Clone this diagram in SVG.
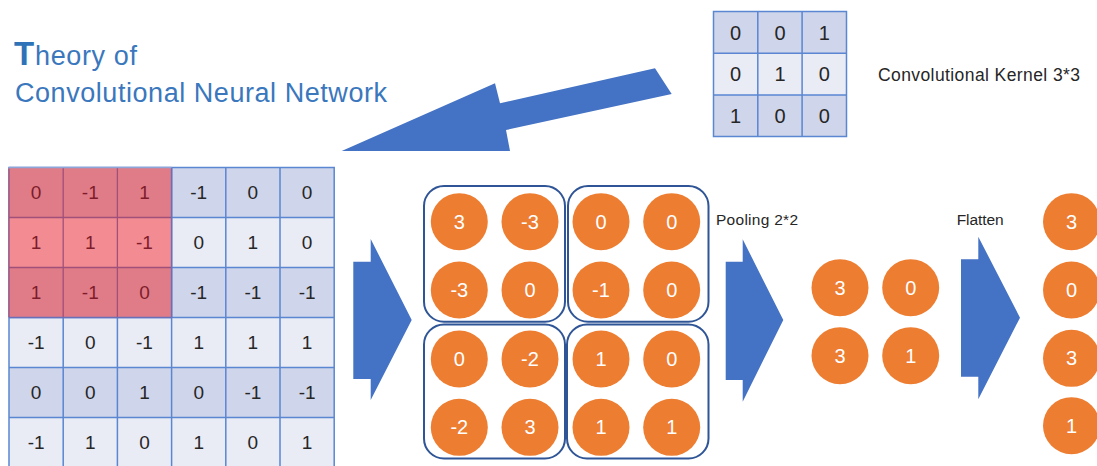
<svg xmlns="http://www.w3.org/2000/svg" width="1097" height="466" viewBox="0 0 1097 466">
<style>
text{font-family:"Liberation Sans","Noto Sans",Arial,sans-serif}
.t{fill:#3A77BD;font-size:27px}
.lbl{fill:#262626}
.cd{fill:#262626;font-size:19px;text-anchor:middle}
.cr{fill:#7E1C2C;font-size:19px;text-anchor:middle}
.kd{fill:#262626;font-size:20px;text-anchor:middle}
.a{fill:#4472C4}
.c{fill:#ED7D31}
.cn{fill:#FFFFFF;font-size:20px;text-anchor:middle}
.box{fill:none;stroke:#2F5597;stroke-width:2}
.dk{fill:#CFD5EA}
.lt{fill:#E9EBF5}
.r1{fill:#E07C87}
.r2{fill:#F28B92}
.gl{stroke:#5A86D2;stroke-width:1.5;fill:none}
.rl{stroke:#A0507A;stroke-width:1.3;fill:none}
</style>

<g id="title">
<text x="14" y="65" style="font-size:33px;font-weight:bold;fill:#2E73B8">T</text>
<text x="35" y="65" class="t" textLength="102">heory of</text>
<text x="15" y="101.5" class="t" textLength="372">Convolutional Neural Network</text>
</g>

<g id="kernel">
<rect x="713.5" y="11.5" width="133" height="41.7" class="dk"/>
<rect x="713.5" y="53.2" width="133" height="41.7" class="lt"/>
<rect x="713.5" y="94.9" width="133" height="41.7" class="dk"/>
<path class="gl" d="M713.5 11.5H846.5V136.6H713.5Z M757.8 11.5V136.6 M802.1 11.5V136.6 M713.5 53.2H846.5 M713.5 94.9H846.5"/>
<text class="kd" x="735.6" y="39.5">0</text><text class="kd" x="780" y="39.5">0</text><text class="kd" x="824.3" y="39.5">1</text>
<text class="kd" x="735.6" y="81.2">0</text><text class="kd" x="780" y="81.2">1</text><text class="kd" x="824.3" y="81.2">0</text>
<text class="kd" x="735.6" y="122.9">1</text><text class="kd" x="780" y="122.9">0</text><text class="kd" x="824.3" y="122.9">0</text>
</g>
<g id="kernel-label">
<text class="lbl" x="878" y="81" style="font-size:17.5px" textLength="202">Convolutional Kernel 3*3</text>
</g>

<g id="input-grid">
<rect x="9" y="167.5" width="325.2" height="50" class="dk"/>
<rect x="9" y="217.5" width="325.2" height="50" class="lt"/>
<rect x="9" y="267.5" width="325.2" height="50" class="dk"/>
<rect x="9" y="317.5" width="325.2" height="50" class="lt"/>
<rect x="9" y="367.5" width="325.2" height="50" class="dk"/>
<rect x="9" y="417.5" width="325.2" height="50" class="lt"/>
<path class="gl" d="M9 167.5H334.2V470H9Z M63.2 167.5V470 M117.4 167.5V470 M171.6 167.5V470 M225.8 167.5V470 M280 167.5V470 M9 217.5H334.2 M9 267.5H334.2 M9 317.5H334.2 M9 367.5H334.2 M9 417.5H334.2"/>
<rect x="9" y="167.5" width="162.6" height="50" class="r1"/>
<rect x="9" y="217.5" width="162.6" height="50" class="r2"/>
<rect x="9" y="267.5" width="162.6" height="50" class="r1"/>
<path class="rl" d="M9 168.5V317.5 M63.2 167.5V317.5 M117.4 167.5V317.5 M9 217.5H171.6 M9 267.5H171.6"/>
<path d="M171.6 167.5V317.5 M9 317.5H171.6" stroke="#6A6FB8" stroke-width="1.5" fill="none"/>
<path d="M9 167.5H171.6" stroke="#8FA5D8" stroke-width="1.5" fill="none"/>
<text class="cr" x="36.1" y="199.3">0</text><text class="cr" x="90.3" y="199.3">-1</text><text class="cr" x="144.5" y="199.3">1</text>
<text class="cd" x="198.7" y="199.3">-1</text><text class="cd" x="252.9" y="199.3">0</text><text class="cd" x="307.1" y="199.3">0</text>
<text class="cr" x="36.1" y="249.3">1</text><text class="cr" x="90.3" y="249.3">1</text><text class="cr" x="144.5" y="249.3">-1</text>
<text class="cd" x="198.7" y="249.3">0</text><text class="cd" x="252.9" y="249.3">1</text><text class="cd" x="307.1" y="249.3">0</text>
<text class="cr" x="36.1" y="299.3">1</text><text class="cr" x="90.3" y="299.3">-1</text><text class="cr" x="144.5" y="299.3">0</text>
<text class="cd" x="198.7" y="299.3">-1</text><text class="cd" x="252.9" y="299.3">-1</text><text class="cd" x="307.1" y="299.3">-1</text>
<text class="cd" x="36.1" y="349.3">-1</text><text class="cd" x="90.3" y="349.3">0</text><text class="cd" x="144.5" y="349.3">-1</text>
<text class="cd" x="198.7" y="349.3">1</text><text class="cd" x="252.9" y="349.3">1</text><text class="cd" x="307.1" y="349.3">1</text>
<text class="cd" x="36.1" y="399.3">0</text><text class="cd" x="90.3" y="399.3">0</text><text class="cd" x="144.5" y="399.3">1</text>
<text class="cd" x="198.7" y="399.3">0</text><text class="cd" x="252.9" y="399.3">-1</text><text class="cd" x="307.1" y="399.3">-1</text>
<text class="cd" x="36.1" y="449.3">-1</text><text class="cd" x="90.3" y="449.3">1</text><text class="cd" x="144.5" y="449.3">0</text>
<text class="cd" x="198.7" y="449.3">1</text><text class="cd" x="252.9" y="449.3">0</text><text class="cd" x="307.1" y="449.3">1</text>
</g>

<g id="feature-map">
<rect x="424" y="186" width="141" height="135.7" rx="20" class="box"/>
<rect x="568" y="186" width="140.5" height="135.7" rx="20" class="box"/>
<rect x="424" y="324.5" width="141" height="134" rx="20" class="box"/>
<rect x="567" y="324.5" width="141.5" height="134" rx="20" class="box"/>
<circle class="c" cx="459.3" cy="221.7" r="28.5"/><circle class="c" cx="530" cy="221.7" r="28.5"/>
<circle class="c" cx="601" cy="221.7" r="28.5"/><circle class="c" cx="671.7" cy="221.7" r="28.5"/>
<circle class="c" cx="459.3" cy="290" r="28.5"/><circle class="c" cx="530" cy="290" r="28.5"/>
<circle class="c" cx="601" cy="290" r="28.5"/><circle class="c" cx="671.7" cy="290" r="28.5"/>
<circle class="c" cx="459.3" cy="359" r="28.5"/><circle class="c" cx="530" cy="359" r="28.5"/>
<circle class="c" cx="601" cy="359" r="28.5"/><circle class="c" cx="671.7" cy="359" r="28.5"/>
<circle class="c" cx="459.3" cy="427.3" r="28.5"/><circle class="c" cx="530" cy="427.3" r="28.5"/>
<circle class="c" cx="601" cy="427.3" r="28.5"/><circle class="c" cx="671.7" cy="427.3" r="28.5"/>
<text class="cn" x="459.3" y="228.8">3</text><text class="cn" x="530" y="228.8">-3</text>
<text class="cn" x="601" y="228.8">0</text><text class="cn" x="671.7" y="228.8">0</text>
<text class="cn" x="459.3" y="297.1">-3</text><text class="cn" x="530" y="297.1">0</text>
<text class="cn" x="601" y="297.1">-1</text><text class="cn" x="671.7" y="297.1">0</text>
<text class="cn" x="459.3" y="366.1">0</text><text class="cn" x="530" y="366.1">-2</text>
<text class="cn" x="601" y="366.1">1</text><text class="cn" x="671.7" y="366.1">0</text>
<text class="cn" x="459.3" y="434.4">-2</text><text class="cn" x="530" y="434.4">3</text>
<text class="cn" x="601" y="434.4">1</text><text class="cn" x="671.7" y="434.4">1</text>
</g>

<g id="pooling-label">
<text class="lbl" x="716" y="225" style="font-size:15.5px" textLength="82">Pooling 2*2</text>
</g>

<g id="pooled">
<circle class="c" cx="840" cy="287.7" r="28.5"/><circle class="c" cx="910.7" cy="287.7" r="28.5"/>
<circle class="c" cx="840" cy="355.7" r="28.5"/><circle class="c" cx="910.7" cy="355.7" r="28.5"/>
<text class="cn" x="840" y="294.8">3</text><text class="cn" x="910.7" y="294.8">0</text>
<text class="cn" x="840" y="362.8">3</text><text class="cn" x="910.7" y="362.8">1</text>
</g>

<g id="flatten-label">
<text class="lbl" x="956.7" y="225" style="font-size:15.5px" textLength="47">Flatten</text>
</g>

<g id="flattened">
<circle class="c" cx="1071.5" cy="221.7" r="28.5"/>
<circle class="c" cx="1071.5" cy="290" r="28.5"/>
<circle class="c" cx="1071.5" cy="358.3" r="28.5"/>
<circle class="c" cx="1071.5" cy="425.7" r="28.5"/>
<text class="cn" x="1071.5" y="228.8">3</text>
<text class="cn" x="1071.5" y="297.1">0</text>
<text class="cn" x="1071.5" y="365.4">3</text>
<text class="cn" x="1071.5" y="432.8">1</text>
</g>

<g id="connectors">
<polygon class="a" points="655,68.3 671.7,94 506,130 510,151 341.7,151 495,83.3 500,103.3"/>
<polygon class="a" points="353.3,261.7 370.7,261.7 370.7,239 411.7,320 370.7,400 370.7,379 353.3,379"/>
<polygon class="a" points="725.7,261.7 742.7,261.7 742.7,239.3 783.3,320 742.7,401.7 742.7,380 725.7,380"/>
<polygon class="a" points="961,259.3 978.3,259.3 978.3,236.7 1020,317.7 978.3,399.3 978.3,376.7 961,376.7"/>
</g>
</svg>
